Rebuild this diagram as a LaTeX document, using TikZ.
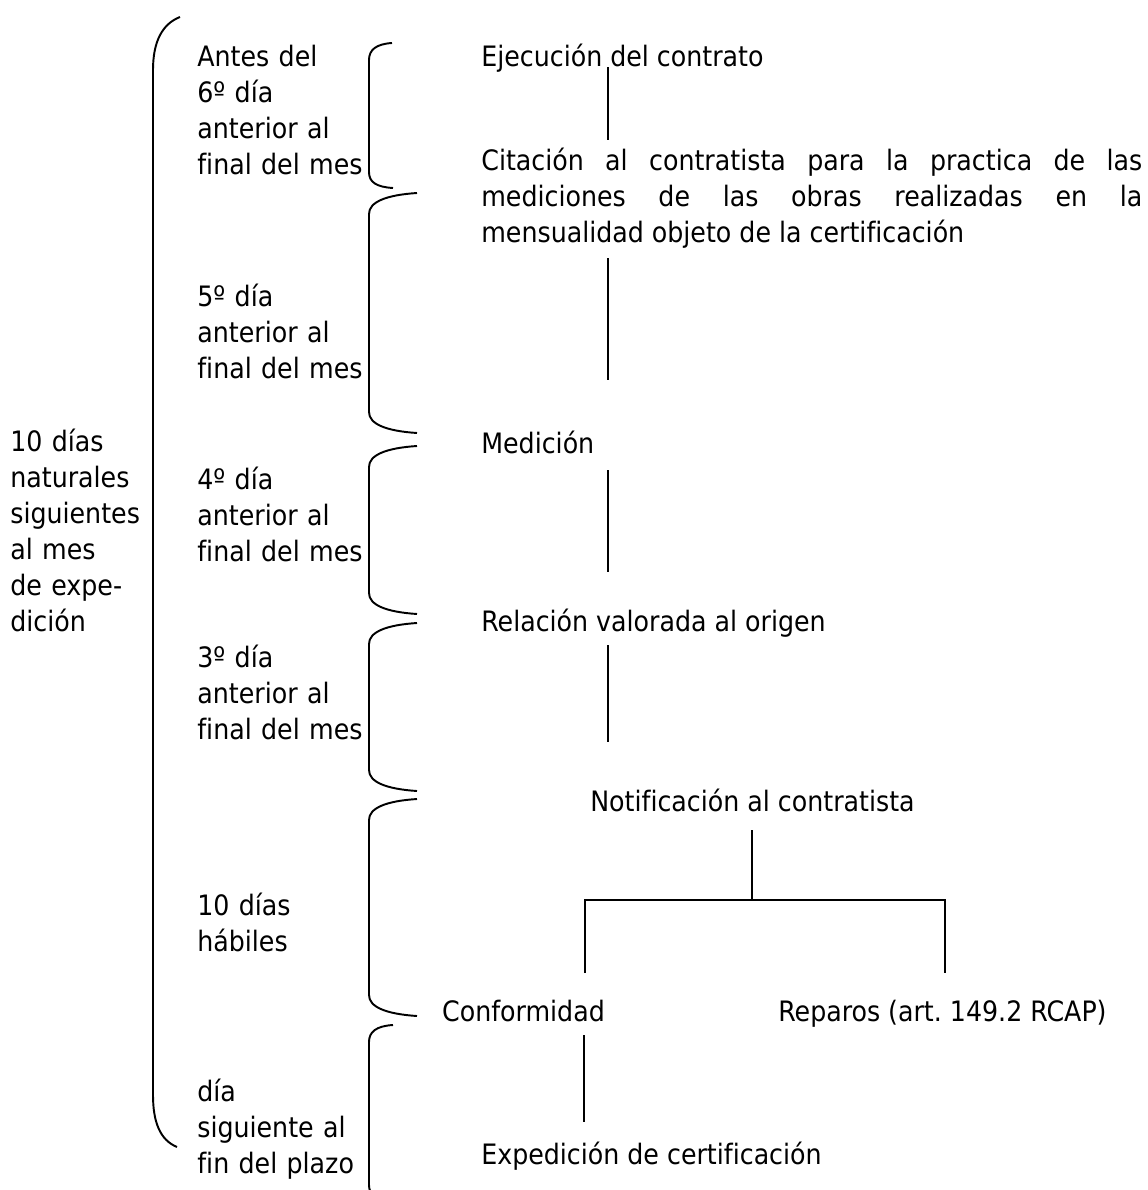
\documentclass[tikz,border=0pt]{standalone}
\usepackage{fontspec}
\setmainfont[Ligatures={NoCommon}]{DejaVu Sans Condensed}

\begin{document}
\begin{tikzpicture}[x=0.02cm,y=-0.02cm,
  every node/.append style={font=\fontsize{16}{20.5}\selectfont},
  plazo/.style={anchor=base west, inner sep=0pt, align=left, text width=6cm},
  tramite/.style={anchor=base west, inner sep=0pt},
  llave/.style={line width=1.1pt},
  enlace/.style={line width=1.1pt}]

\useasboundingbox (0,0) rectangle (1147,1190);
\clip (0,0) rectangle (1147,1190);

% plazo total
\node [plazo] (total) at (10,451) {10 días\\naturales\\siguientes\\al mes\\de expe-\\dición};
\draw [llave] (180,17) .. controls (162,24) and (153,42) .. (153,70) -- (153,1095) .. controls (153,1122) and (160,1140) .. (177,1147);

% plazos parciales
\node [plazo] (p6) at (197,66) {Antes del\\6º día\\anterior al\\final del mes};
\node [plazo] (p5) at (197,306) {5º día\\anterior al\\final del mes};
\node [plazo] (p4) at (197,489) {4º día\\anterior al\\final del mes};
\node [plazo] (p3) at (197,667) {3º día\\anterior al\\final del mes};
\node [plazo] (p10) at (197,915) {10 días\\hábiles};
\node [plazo] (psig) at (197,1101) {día\\siguiente al\\fin del plazo};

\draw [llave] (392,43) .. controls (376,44) and (369,50) .. (369,60) -- (369,172) .. controls (369,182) and (376,187) .. (393,188);
\draw [llave] (417,193) .. controls (386,195) and (369,202) .. (369,214) -- (369,412) .. controls (369,424) and (386,431) .. (417,433);
\draw [llave] (417,446) .. controls (386,448) and (369,455) .. (369,467) -- (369,593) .. controls (369,605) and (386,612) .. (417,614);
\draw [llave] (417,623) .. controls (386,625) and (369,632) .. (369,644) -- (369,770) .. controls (369,782) and (386,789) .. (417,791);
\draw [llave] (417,799) .. controls (386,801) and (369,808) .. (369,820) -- (369,995) .. controls (369,1007) and (386,1014) .. (417,1016);
\draw [llave] (393,1025) .. controls (376,1026) and (369,1032) .. (369,1042) -- (369,1185) .. controls (369,1195) and (376,1200) .. (393,1201);

% tramites
\node [tramite] (ejec) at (481,66) {Ejecución del contrato};
\node [plazo, text width=661*0.02cm, align=justify] (cit) at (481,170)
  {\hyphenpenalty=10000 Citación al contratista para la practica de las\linebreak mediciones de las obras realizadas en la\linebreak mensualidad objeto de la certificación};
\node [tramite] (med) at (481,453) {Medición};
\node [tramite] (rel) at (481,631) {Relación valorada al origen};
\node [tramite, anchor=base] (notif) at (752.5,811) {Notificación al contratista};
\node [tramite, anchor=base] (conf) at (523.5,1021) {Conformidad};
\node [tramite] (rep) at (778,1021) {Reparos (art.\ 149.2 RCAP)};
\node [tramite] (exped) at (481,1164) {Expedición de certificación};

\coordinate (a1) at (608,67);  \coordinate (a2) at (608,140);
\coordinate (b1) at (608,258); \coordinate (b2) at (608,380);
\coordinate (c1) at (608,470); \coordinate (c2) at (608,572);
\coordinate (d1) at (608,645); \coordinate (d2) at (608,742);
\coordinate (e1) at (752,830); \coordinate (e2) at (752,900);
\coordinate (f1) at (585,900); \coordinate (f2) at (945,900);
\coordinate (g1) at (585,973); \coordinate (g2) at (945,973);
\coordinate (h1) at (584,1035); \coordinate (h2) at (584,1122);

\draw [enlace] (a1) -- (a2);
\draw [enlace] (b1) -- (b2);
\draw [enlace] (c1) -- (c2);
\draw [enlace] (d1) -- (d2);
\draw [enlace] (e1) -- (e2);
\draw [enlace] (g1) -- (f1) -- (f2) -- (g2);
\draw [enlace] (h1) -- (h2);

\end{tikzpicture}
\end{document}
